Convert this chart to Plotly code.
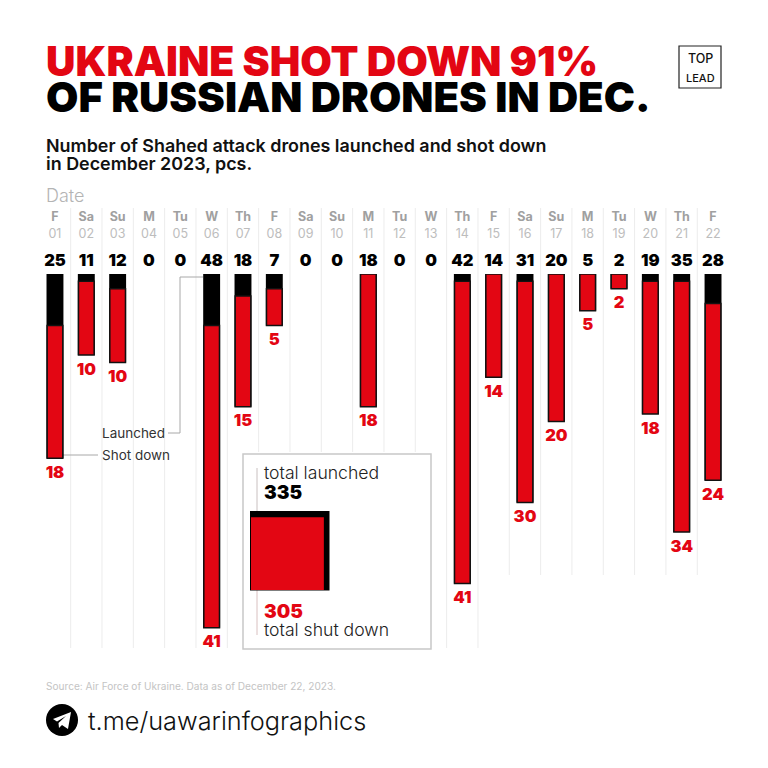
import math
import plotly.graph_objects as go

weekdays = ["F","Sa","Su","M","Tu","W","Th","F","Sa","Su","M","Tu","W","Th","F","Sa","Su","M","Tu","W","Th","F"]
dates = ["01","02","03","04","05","06","07","08","09","10","11","12","13","14","15","16","17","18","19","20","21","22"]
launched = [25,11,12,0,0,48,18,7,0,0,18,0,0,42,14,31,20,5,2,19,35,28]
shot_down = [18,10,10,0,0,41,15,5,0,0,18,0,0,41,14,30,20,5,2,18,34,24]
total_launched = 335
total_shot = 305

RED = "#e30613"
GREY = "#a8a8a8"
HEAVY = "Inter"
BODY = "Inter"
W = 768
def px(x): return x / W
def py(y): return 1 - y / W

days = list(range(1, len(dates) + 1))
# pixel frame of the plot: day d -> 55 + 31.33*(d-1); value v -> 274 + 7.37*v
X0, X1 = 39.3, 728.7
Y0, Y1 = 274, 650

fig = go.Figure()
fig.add_bar(x=days, y=[v or None for v in launched], marker=dict(color="black", line=dict(width=0)), width=0.54,
            hoverinfo="skip", cliponaxis=False)
fig.add_bar(x=days, y=[s or None for s in shot_down], base=[l - s for l, s in zip(launched, shot_down)],
            marker=dict(color=RED, line=dict(color="#111", width=1.5)), width=0.5,
            hoverinfo="skip", cliponaxis=False)
fig.add_scatter(x=days, y=[v or None for v in launched], mode="markers+text",
                marker=dict(size=10, opacity=0), text=[str(s) for s in shot_down],
                textposition="bottom center", textfont=dict(family=HEAVY, size=16.5, color=RED, weight=900),
                cliponaxis=False, hoverinfo="skip")
fig.add_scatter(x=days, y=[0] * len(days), mode="markers+text", marker=dict(size=5, opacity=0),
                text=[str(v) for v in launched],
                textposition="top center", textfont=dict(family=HEAVY, size=16.5, color="black", weight=900),
                cliponaxis=False, hoverinfo="skip")

shapes = []
def line(x0, y0, x1, y1, color=GREY, width=1):
    shapes.append(dict(type="line", xref="paper", yref="paper", x0=px(x0), y0=py(y0), x1=px(x1), y1=py(y1),
                       line=dict(color=color, width=width), layer="below"))
# day separators
for d in days[:-1]:
    xs = 55 + 31.33 * (d - 0.5)
    if xs < 240 or 440 < xs < 485:
        end = 648
    elif xs < 432:
        end = 452
    else:
        end = 575
    line(xs, 208, xs, end, "#ececec", 1)
# callouts
line(203, 277, 180, 277); line(180, 277, 180, 433); line(180, 433, 168, 433)
line(63, 455, 98, 455)
# totals box
shapes.append(dict(type="rect", xref="paper", yref="paper", x0=px(243), x1=px(431), y0=py(454), y1=py(649),
                   line=dict(color="#c8c8c8", width=1.5), fillcolor="white", layer="below"))
line(257, 468, 257, 511, "#c9c0c0"); line(257, 590, 257, 635, "#d9c0c0")
side = 79.5
side_r = side * math.sqrt(total_shot / total_launched) - 3
shapes.append(dict(type="rect", xref="paper", yref="paper", x0=px(250), x1=px(250 + side), y0=py(590.5), y1=py(590.5 - side),
                   fillcolor="black", line=dict(width=0)))
shapes.append(dict(type="rect", xref="paper", yref="paper", x0=px(251), x1=px(251 + side_r), y0=py(590), y1=py(590 - side_r),
                   fillcolor=RED, line=dict(width=0)))
# logo
shapes.append(dict(type="rect", xref="paper", yref="paper", x0=px(679), x1=px(721), y0=py(46), y1=py(88),
                   line=dict(color="#222", width=1.2), fillcolor="white"))
line(685, 68, 715, 68, "#8a6fa0", 1)
# telegram icon
shapes.append(dict(type="circle", xref="paper", yref="paper", x0=px(46), x1=px(78), y0=py(704), y1=py(736),
                   fillcolor="black", line=dict(width=0)))
plane = [(53, 719), (71, 712), (68, 729), (62, 725), (59, 728), (58.5, 723), (66, 716), (57, 721.5)]
shapes.append(dict(type="path", xref="paper", yref="paper", fillcolor="white", line=dict(width=0),
                   path="M" + " L".join(f"{px(a):.5f},{py(b):.5f}" for a, b in plane) + " Z"))

ann = []
def text(x, y, s, size, color="black", family=BODY, weight=400, anchor="left"):
    ann.append(dict(x=px(x), y=py(y), xref="paper", yref="paper", text=s, showarrow=False, xanchor=anchor, yanchor="middle",
                    font=dict(size=size, color=color, family=family, weight=weight), align="left",
                    xshift=-2 if anchor == "left" else 0))

text(46, 61, "UKRAINE SHOT DOWN 91%", 40.8, RED, HEAVY, 900)
text(46, 97, "OF RUSSIAN DRONES IN DEC.", 41.8, "black", HEAVY, 900)
text(46, 145, "Number of Shahed attack drones launched and shot down", 17.9, "#111", BODY, 600)
text(46, 163, "in December 2023, pcs.", 17.9, "#111", BODY, 600)
text(46, 196, "Date", 18, "#b4b4b4", BODY, 300)
text(102, 433, "Launched", 13.5, "#333")
text(102, 455, "Shot down", 13.5, "#333")
text(264, 472, "total launched", 17.6, "#222", BODY, 300)
text(264, 492, f"{total_launched}", 19, "black", HEAVY, 900)
text(264, 611, f"{total_shot}", 19, RED, HEAVY, 900)
text(264, 629, "total shut down", 17.6, "#222", BODY, 300)
text(700, 58, "TOP", 12.5, "#111", BODY, 500, "center")
text(700, 78, "LEAD", 11, "#111", BODY, 500, "center")
text(46, 686, "Source: Air Force of Ukraine. Data as of December 22, 2023.", 10.1, "#c4c4c4")
text(88, 720, "t.me/uawarinfographics", 25.3, "#111", BODY, 300)

fig.update_layout(
    width=W, height=W, margin=dict(l=0, r=0, t=0, b=0), barmode="overlay", showlegend=False,
    paper_bgcolor="white", plot_bgcolor="rgba(0,0,0,0)", shapes=shapes, annotations=ann,
    xaxis=dict(domain=[px(X0), px(X1)], range=[0.5, 22.5], side="top", tickmode="array", tickvals=days,
               ticktext=[f'<b>{a}</b><br><span style="color:#bdbdbd">{b}</span>' for a, b in zip(weekdays, dates)],
               showgrid=False, zeroline=False,
               showline=False, ticks="", ticklabelstandoff=33, tickfont=dict(family=BODY, size=12.5, color="#a0a0a0")),
    yaxis=dict(domain=[py(Y1), py(Y0)], range=[(Y1 - Y0) / 7.37, 0], visible=False),
)
fig.write_html("out.html", config={"displayModeBar": False},
               post_script="document.body.style.margin='0';document.body.style.overflow='hidden';")
